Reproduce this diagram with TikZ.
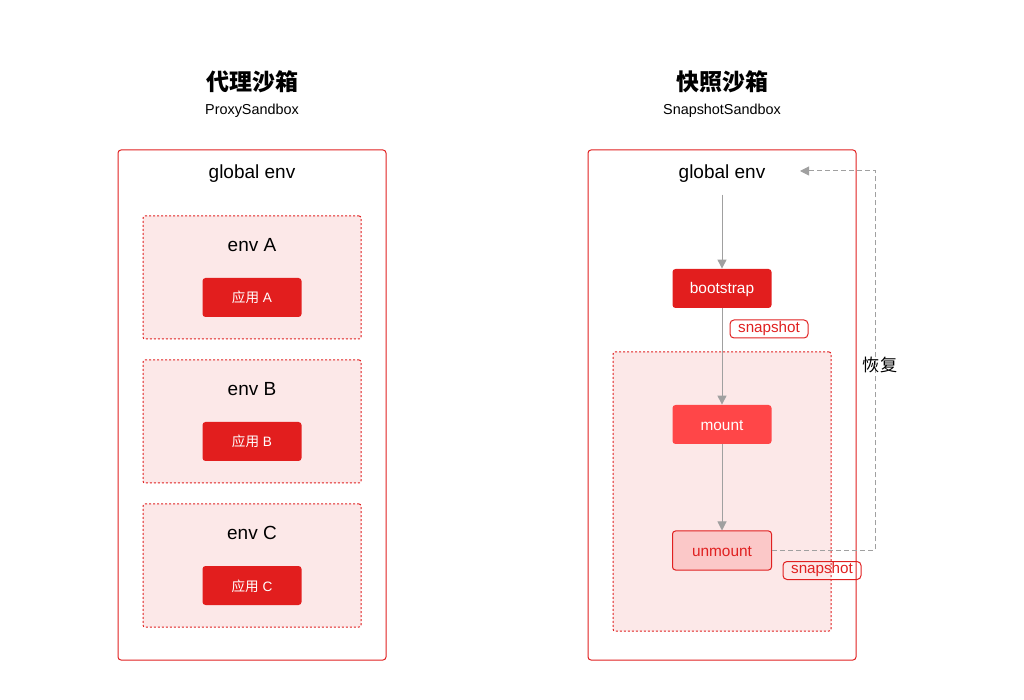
\documentclass[tikz,border=0pt]{standalone}
\usepackage{fontspec}
\setmainfont{Liberation Sans}
\newfontfamily\cjk{Noto Sans CJK SC}
\definecolor{sbRed}{RGB}{224,32,32}
\definecolor{sbBtn}{RGB}{226,30,30}
\definecolor{sbMount}{RGB}{255,70,72}
\definecolor{sbPink}{RGB}{252,232,232}
\definecolor{sbSoft}{RGB}{251,200,200}
\definecolor{sbGrey}{RGB}{160,160,160}
\usetikzlibrary{arrows.meta,positioning}

\begin{document}
\begin{tikzpicture}[x=0.5pt,y=-0.5pt,
    outerbox/.style={rectangle, rounded corners=1.5pt, draw=sbRed, line width=0.5pt,
                     minimum width=134pt, minimum height=255pt},
    envbox/.style={rectangle, rounded corners=1pt, draw=sbRed, fill=sbPink,
                   line width=0.5pt, dash pattern=on 1pt off 1pt},
    btn/.style={rectangle, rounded corners=1.5pt, fill=sbBtn, text=white,
                minimum width=49.5pt, minimum height=19.5pt, inner sep=0pt,
                text depth=0pt, text height=5.5pt},
    snaplabel/.style={rectangle, rounded corners=2pt, draw=sbRed, text=sbRed,
                      line width=0.5pt, minimum width=39pt, minimum height=9pt,
                      inner sep=0pt, text height=4.6pt, text depth=1.4pt,
                      font=\fontsize{7.6}{8}\selectfont},
    title/.style={font=\cjk\bfseries\fontsize{11.5}{13}\selectfont},
    subtitle/.style={font=\fontsize{7.2}{8}\selectfont, yshift=-0.7pt},
    envtext/.style={font=\fontsize{9.5}{11}\selectfont, yshift=-0.8pt},
    arr/.style={-{Triangle[length=4.5pt,width=4.5pt]}, sbGrey, line width=0.5pt},
    backarr/.style={-{Triangle[length=4.5pt,width=4.5pt]}, sbGrey, line width=0.5pt,
                    dash pattern=on 2.5pt off 1.5pt}
  ]
  \useasboundingbox (0,0) rectangle (1024,700);

  % proxy sandbox
  \node[title] (titleP) at (252,82) {代理沙箱};
  \node[subtitle] (subP) at (252,109) {ProxySandbox};
  \node[outerbox] (proxy) at (252,405) {};
  \node[envtext] (genvP) at (252,172) {global env};

  \foreach \name/\yc in {A/277.5,B/421.5,C/565.5}{
    \node[envbox, minimum width=109pt, minimum height=61.5pt] (env\name) at (252,\yc) {};
    \node[envtext] (lbl\name) at (252,\yc-34.5) {env \name};
    \node[btn, font=\fontsize{6.8}{8}\selectfont] (app\name) at (252,\yc+20) {{\cjk 应用} \name};
  }

  % snapshot sandbox
  \node[title] (titleS) at (722,82) {快照沙箱};
  \node[subtitle] (subS) at (722,109) {SnapshotSandbox};
  \node[outerbox] (snap) at (722,405) {};
  \node[envtext] (genvS) at (722,172) {global env};
  \node[envbox, minimum width=109pt, minimum height=139.5pt] (life) at (722,491.5) {};

  \node[btn, font=\fontsize{7.7}{9}\selectfont] (boot) at (722,288.5) {bootstrap};
  \node[btn, fill=sbMount, font=\fontsize{7.7}{9}\selectfont] (mount) at (722,424.5) {mount};
  \node[btn, fill=sbSoft, draw=sbRed, line width=0.5pt, text=sbRed,
        font=\fontsize{7.7}{9}\selectfont] (unmount) at (722,550.5) {unmount};

  \node[snaplabel] (snap1) at (769,329) {snapshot};
  \node[snaplabel] (snap2) at (822,570.5) {snapshot};

  \coordinate (back) at (800,171);
  \draw[arr] ([yshift=-2.5pt]genvS.south) -- (boot.north);
  \draw[arr] (boot.south) -- (mount.north);
  \draw[arr] (mount.south) -- (unmount.north);
  \draw[backarr] (unmount.east) -- ++(103,0) |- (back);
  \node[font=\cjk\fontsize{8.6}{10}\selectfont] (restore) at (880,365) {恢复};
\end{tikzpicture}
\end{document}
